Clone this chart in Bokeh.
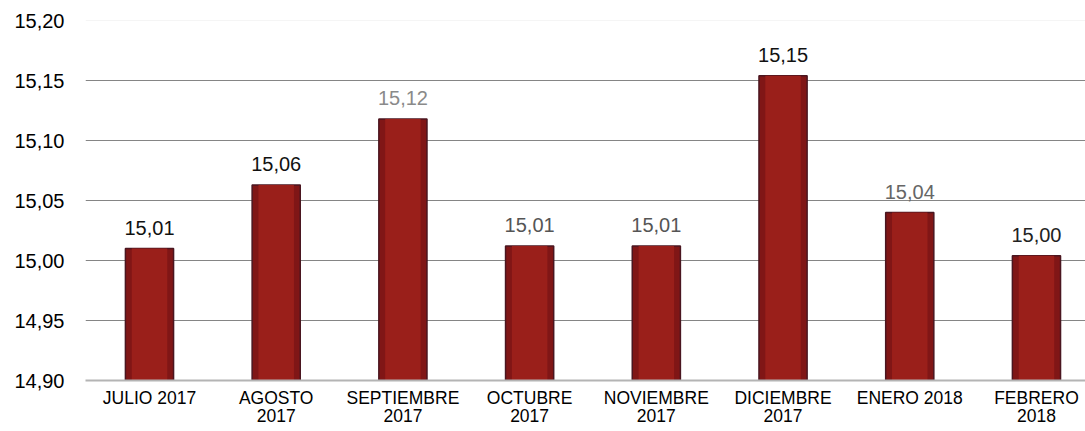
from bokeh.plotting import figure
from bokeh.models import ColumnDataSource, FixedTicker, Span, CustomJSTickFormatter
from bokeh.core.properties import value
from bokeh.embed import file_html
from bokeh.resources import INLINE

# ---- data ----
months = ["JULIO 2017", "AGOSTO\n2017", "SEPTIEMBRE\n2017", "OCTUBRE\n2017",
          "NOVIEMBRE\n2017", "DICIEMBRE\n2017", "ENERO 2018", "FEBRERO\n2018"]
values = [15.01, 15.063, 15.118, 15.012, 15.012, 15.154, 15.04, 15.004]
y_ticks = [14.90, 14.95, 15.00, 15.05, 15.10, 15.15, 15.20]

# ---- styling ----
label_colors = ["#111111", "#111111", "#8a8a8a", "#555555",
                "#555555", "#111111", "#666666", "#222222"]
FONT = "Liberation Sans"

xs = list(range(len(months)))
labels = [("%.2f" % v).replace(".", ",") for v in values]
src = ColumnDataSource(dict(x=xs, top=values, label=labels, color=label_colors))

p = figure(width=1085, height=428, output_backend="svg", toolbar_location=None,
           x_range=(-0.505, 7.387), y_range=(14.90, 15.20),
           min_border_left=85, min_border_top=20, min_border_right=0,
           min_border_bottom=30)
p.outline_line_color = None
p.background_fill_color = "white"
p.border_fill_color = "white"

# gridlines
p.xgrid.grid_line_color = None
p.ygrid.ticker = FixedTicker(ticks=[14.95, 15.00, 15.05, 15.10, 15.15])
p.ygrid.grid_line_color = "#858585"
p.ygrid.grid_line_width = 1
p.add_layout(Span(location=15.20, dimension="width", line_color="#ececec", line_width=1))

# bars (outer darker edge + lighter core for a shaded look)
p.vbar(x="x", top="top", bottom=14.90, width=0.38, source=src,
       fill_color="#801616", line_color="#4a1620", line_width=1.5)
p.vbar(x="x", top="top", bottom=14.90, width=0.28, source=src,
       fill_color="#9a1f1a", line_color=None)

# value labels
p.text(x="x", y="top", text="label", source=src, text_color="color",
       text_align="center", text_baseline="bottom", y_offset=-14,
       text_font=value(FONT), text_font_size="20px")

# x axis
p.xaxis.ticker = FixedTicker(ticks=xs)
p.xaxis.major_label_overrides = {i: m for i, m in enumerate(months)}
p.xaxis.axis_line_color = "#b4b4b4"
p.xaxis.axis_line_width = 2
p.xaxis.major_tick_line_color = None
p.xaxis.minor_tick_line_color = None
p.xaxis.major_tick_out = 0
p.xaxis.major_tick_in = 0
p.xaxis.major_label_standoff = 7
p.xaxis.major_label_text_font = FONT
p.xaxis.major_label_text_font_size = "17.5px"
p.xaxis.major_label_text_color = "#000000"
p.xaxis.major_label_text_line_height = 0.92

# y axis
p.yaxis.ticker = FixedTicker(ticks=y_ticks)
p.yaxis.formatter = CustomJSTickFormatter(code="return tick.toFixed(2).replace('.', ',');")
p.yaxis.axis_line_color = None
p.yaxis.major_tick_line_color = None
p.yaxis.minor_tick_line_color = None
p.yaxis.major_tick_out = 0
p.yaxis.major_tick_in = 0
p.yaxis.major_label_standoff = 21
p.yaxis.major_label_text_font = FONT
p.yaxis.major_label_text_font_size = "20px"
p.yaxis.major_label_text_color = "#000000"

open("out.html", "w").write(file_html(p, INLINE))
